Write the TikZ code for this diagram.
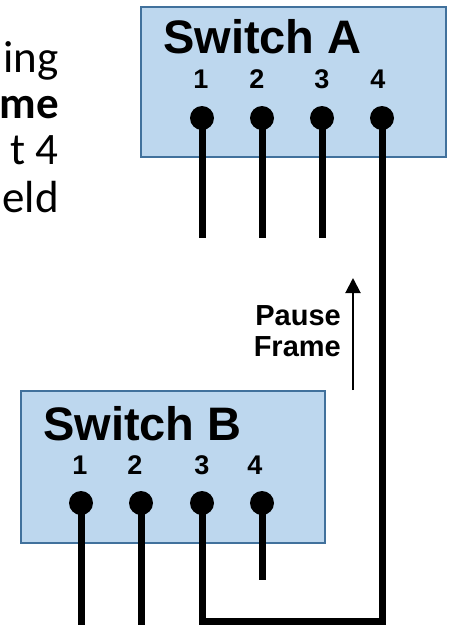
\documentclass[tikz,border=0pt]{standalone}
\usepackage{fontspec}
\setmainfont{Carlito}
\newfontfamily\arialfont{Liberation Sans}
\usetikzlibrary{arrows.meta}
\definecolor{PanelBlue}{HTML}{BDD7EE}
\definecolor{EdgeBlue}{HTML}{41719C}

\begin{document}
\begin{tikzpicture}[x=1pt, y=-1pt,
    switchbox/.style={draw=EdgeBlue, fill=PanelBlue, line width=2.5pt, inner sep=0pt},
    title/.style={font=\arialfont\bfseries\fontsize{47}{56}\selectfont, inner sep=0pt, anchor=base west},
    portnum/.style={font=\arialfont\bfseries\fontsize{27}{32}\selectfont, inner sep=0pt, anchor=base},
    port/.style={circle, fill=black, inner sep=0pt, minimum size=24pt},
    wire/.style={line width=7pt},
    bodytext/.style={font=\fontsize{45}{52}\selectfont, inner sep=0pt, anchor=base east}]
  \useasboundingbox (0,0) rectangle (452,625);

  \node[bodytext] (txa) at (59,72) {ing};
  \node[bodytext] (txb) at (59,118) {\bfseries me};
  \node[bodytext] (txc) at (59,164) {t 4};
  \node[bodytext] (txd) at (59,212) {eld};

  \node[switchbox, minimum width=305pt, minimum height=150pt] (swA) at (293.5,82) {};
  \node[title] (titleA) at (163,53) {Switch A};
  \foreach \i/\x in {1/201,2/257,3/322,4/378}
    \node[portnum] (na\i) at (\x,88) {\i};

  \node[switchbox, minimum width=304pt, minimum height=152pt] (swB) at (173,467) {};
  \node[title] (titleB) at (43,440) {Switch B};
  \foreach \i/\x in {1/80,2/135,3/202,4/255}
    \node[portnum] (nb\i) at (\x,474) {\i};

  \foreach \i/\x in {1/202,2/262,3/322,4/382}
    \node[port] (a\i) at (\x,118) {};
  \foreach \i/\x in {1/81,2/141,3/202,4/262}
    \node[port] (b\i) at (\x,503) {};

  \coordinate (ea1) at (202,238);
  \coordinate (ea2) at (262,238);
  \coordinate (ea3) at (322,238);
  \coordinate (eb1) at (81,625);
  \coordinate (eb2) at (141,625);
  \coordinate (eb4) at (262,580);
  \coordinate (loopa) at (382,621);
  \coordinate (loopb) at (202,621);

  \foreach \i in {1,2,3}
    \draw[wire] (a\i.center) -- (ea\i);
  \draw[wire] (b1.center) -- (eb1);
  \draw[wire] (b2.center) -- (eb2);
  \draw[wire] (b4.center) -- (eb4);
  \draw[wire] (a4.center) -- (loopa) -- (loopb) -- (b3.center);

  \coordinate (pfstart) at (353,390);
  \coordinate (pfend) at (353,278);
  \draw[line width=2pt, -{Triangle[length=15pt,width=15pt]}] (pfstart) -- (pfend);
  \node[font=\arialfont\bfseries\fontsize{29}{31}\selectfont, align=right, anchor=east, inner sep=0pt] (pflabel) at (341,331) {Pause\\Frame};
\end{tikzpicture}
\end{document}
